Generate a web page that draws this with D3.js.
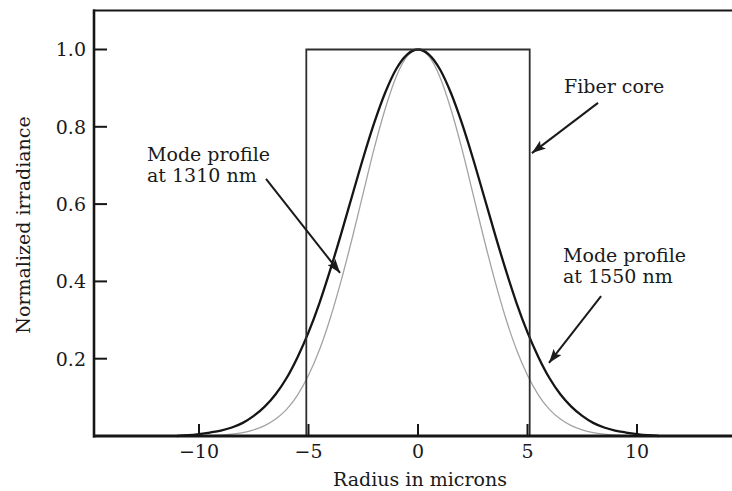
<!DOCTYPE html>
<html>
<head>
<meta charset="utf-8">
<script src="https://cdn.jsdelivr.net/npm/d3@7"></script>
<style>
  html, body { margin: 0; padding: 0; background: #fff; }
  svg { display: block; }
  text { font-family: "DejaVu Serif", "Liberation Serif", serif; fill: #1a1a1a; }
</style>
</head>
<body>
<svg id="chart" width="732" height="491"></svg>
<script>
// Radius samples (microns) shared by both mode profiles
const radius = [-11, -10.5, -10, -9.5, -9, -8.5, -8, -7.5, -7, -6.5, -6, -5.5, -5, -4.5, -4, -3.5, -3, -2.5, -2, -1.5, -1, -0.5,
                0, 0.5, 1, 1.5, 2, 2.5, 3, 3.5, 4, 4.5, 5, 5.5, 6, 6.5, 7, 7.5, 8, 8.5, 9, 9.5, 10, 10.5, 11];

// Normalized irradiance, mode profile at 1550 nm
const mode1550 = [0, 0.002, 0.005, 0.009, 0.014, 0.022, 0.034, 0.052, 0.076, 0.108, 0.150, 0.204, 0.268, 0.344, 0.431, 0.525, 0.623, 0.720, 0.810, 0.888, 0.949, 0.987,
                  1.000, 0.987, 0.949, 0.888, 0.810, 0.720, 0.623, 0.525, 0.431, 0.344, 0.268, 0.204, 0.150, 0.108, 0.076, 0.052, 0.034, 0.022, 0.014, 0.009, 0.005, 0.002, 0];

// Normalized irradiance, mode profile at 1310 nm
const mode1310 = [0, 0, 0, 0.001, 0.0025, 0.005, 0.009, 0.016, 0.027, 0.044, 0.069, 0.106, 0.157, 0.223, 0.306, 0.404, 0.513, 0.629, 0.744, 0.846, 0.929, 0.982,
                  1.000, 0.982, 0.929, 0.846, 0.744, 0.629, 0.513, 0.404, 0.306, 0.223, 0.157, 0.106, 0.069, 0.044, 0.027, 0.016, 0.009, 0.005, 0.0025, 0.001, 0, 0, 0];

// Step-index core: edges and normalized height
const coreEdges = [-5.1, 5.1];
const coreHeight = 1.0;

const xTicks = [-10, -5, 0, 5, 10];
const yTicks = [0.2, 0.4, 0.6, 0.8, 1.0];

const svg = d3.select("#chart");
const W = 732, H = 491;
const FS = 19;

const x = d3.scaleLinear().domain([-10, 10]).range([199, 637]);
const y = d3.scaleLinear().domain([0, 1]).range([436, 49.5]);

const frameLeft = 94, frameBottom = 436, frameTop = 10.5;

// Arrowhead marker
svg.append("defs").append("marker")
  .attr("id", "head")
  .attr("viewBox", "0 0 14 10")
  .attr("refX", 14).attr("refY", 5)
  .attr("markerWidth", 15).attr("markerHeight", 10)
  .attr("markerUnits", "userSpaceOnUse")
  .attr("orient", "auto")
  .append("path").attr("d", "M0,0 L14,5 L0,10 L3,5 Z").attr("fill", "#1a1a1a");

// Mode profiles
const line = d3.line().x((d, i) => x(radius[i])).y(d => y(d)).curve(d3.curveMonotoneX);

svg.append("path").datum(mode1310)
  .attr("d", line).attr("fill", "none")
  .attr("stroke", "#a3a3a3").attr("stroke-width", 1.3);

svg.append("path").datum(mode1550)
  .attr("d", line).attr("fill", "none")
  .attr("stroke", "#151515").attr("stroke-width", 2.3);

// Fiber core outline
svg.append("path")
  .attr("d", `M${x(coreEdges[0])},${frameBottom} V${y(coreHeight)} H${x(coreEdges[1])} V${frameBottom}`)
  .attr("fill", "none").attr("stroke", "#2e2e2e").attr("stroke-width", 1.8);

// Frame: left axis, top rule, bottom axis
svg.append("line").attr("x1", frameLeft).attr("x2", frameLeft).attr("y1", frameTop - 1).attr("y2", frameBottom + 1.5)
  .attr("stroke", "#161616").attr("stroke-width", 2.6);
svg.append("line").attr("x1", frameLeft - 1).attr("x2", W).attr("y1", frameTop).attr("y2", frameTop)
  .attr("stroke", "#161616").attr("stroke-width", 2.2);
svg.append("line").attr("x1", frameLeft - 1).attr("x2", W).attr("y1", frameBottom).attr("y2", frameBottom)
  .attr("stroke", "#161616").attr("stroke-width", 3);

// Y ticks (inward)
const yAxis = svg.append("g");
yTicks.forEach(t => {
  yAxis.append("line").attr("x1", frameLeft).attr("x2", frameLeft + 13).attr("y1", y(t)).attr("y2", y(t))
    .attr("stroke", "#161616").attr("stroke-width", 2);
  yAxis.append("text").attr("x", 86).attr("y", y(t)).attr("dy", "0.36em")
    .attr("text-anchor", "end").attr("font-size", FS).text(d3.format(".1f")(t));
});

// X ticks (inward)
const xAxis = svg.append("g");
xTicks.forEach(t => {
  xAxis.append("line").attr("x1", x(t)).attr("x2", x(t)).attr("y1", frameBottom).attr("y2", frameBottom - 12)
    .attr("stroke", "#161616").attr("stroke-width", 2);
  xAxis.append("text").attr("x", x(t)).attr("y", 458)
    .attr("text-anchor", "middle").attr("font-size", FS)
    .text(t < 0 ? "\u2212" + Math.abs(t) : String(t));
});

// Axis titles
svg.append("text").attr("x", 420).attr("y", 486).attr("text-anchor", "middle")
  .attr("font-size", FS).text("Radius in microns");
svg.append("text").attr("transform", "translate(30,225) rotate(-90)")
  .attr("text-anchor", "middle").attr("font-size", FS).text("Normalized irradiance");

// Annotations
function label(px, py, lines) {
  const t = svg.append("text").attr("x", px).attr("y", py).attr("font-size", FS);
  lines.forEach((s, i) => t.append("tspan").attr("x", px).attr("dy", i ? 21 : 0).text(s));
}
function arrow(x1, y1, x2, y2) {
  svg.append("line")
    .attr("x1", x(x1)).attr("y1", y(y1)).attr("x2", x(x2)).attr("y2", y(y2))
    .attr("stroke", "#1a1a1a").attr("stroke-width", 2)
    .attr("marker-end", "url(#head)");
}

label(564, 93, ["Fiber core"]);
arrow(8.22, 0.862, 5.2, 0.732);

label(563, 262, ["Mode profile", "at 1550 nm"]);
arrow(8.36, 0.362, 5.98, 0.189);

label(147, 161, ["Mode profile", "at 1310 nm"]);
arrow(-6.94, 0.665, -3.56, 0.422);
</script>
</body>
</html>
